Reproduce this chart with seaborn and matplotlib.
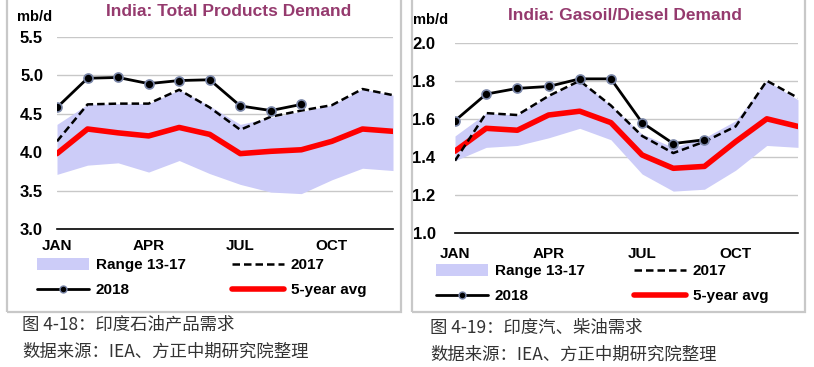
import numpy as np
import pandas as pd
import matplotlib
matplotlib.use("Agg")
import matplotlib.pyplot as plt
import seaborn as sns
from matplotlib.patches import Rectangle, Patch
from matplotlib.lines import Line2D

# data (mb/d), JAN..DEC
months = ["JAN", "FEB", "MAR", "APR", "MAY", "JUN", "JUL", "AUG", "SEP", "OCT", "NOV", "DEC"]
month_labels = ["JAN", "", "", "APR", "", "", "JUL", "", "", "OCT", "", ""]

total_2018 = [4.58, 4.96, 4.97, 4.89, 4.93, 4.94, 4.60, 4.54, 4.62]
total_2017 = [4.14, 4.62, 4.63, 4.63, 4.81, 4.58, 4.29, 4.46, 4.54, 4.61, 4.82, 4.74]
total_avg = [3.98, 4.30, 4.25, 4.21, 4.32, 4.23, 3.98, 4.01, 4.03, 4.14, 4.30, 4.27]
total_hi = [4.36, 4.62, 4.63, 4.63, 4.81, 4.60, 4.36, 4.45, 4.53, 4.61, 4.82, 4.74]
total_lo = [3.71, 3.83, 3.86, 3.74, 3.89, 3.72, 3.58, 3.48, 3.46, 3.64, 3.79, 3.76]

diesel_2018 = [1.59, 1.73, 1.76, 1.77, 1.81, 1.81, 1.58, 1.47, 1.49]
diesel_2017 = [1.38, 1.63, 1.62, 1.72, 1.80, 1.67, 1.51, 1.42, 1.48, 1.56, 1.80, 1.71]
diesel_avg = [1.43, 1.55, 1.54, 1.62, 1.64, 1.58, 1.41, 1.34, 1.35, 1.48, 1.60, 1.56]
diesel_hi = [1.51, 1.63, 1.62, 1.72, 1.80, 1.67, 1.52, 1.45, 1.50, 1.59, 1.80, 1.70]
diesel_lo = [1.38, 1.45, 1.46, 1.50, 1.55, 1.49, 1.31, 1.22, 1.23, 1.33, 1.46, 1.45]

sns.set_style("white")
plt.rcParams["font.family"] = ["Liberation Sans", "DejaVu Sans"]
plt.rcParams["text.color"] = "black"

W, H = 814, 367
fig = plt.figure(figsize=(W / 100, H / 100), dpi=100)

FILL = "#ccccf8"
TITLE_C = "#953a6e"


def px(x0, y_top, x1, y_bot):
    return [x0 / W, 1 - y_bot / H, (x1 - x0) / W, (y_bot - y_top) / H]


def panel(rect, title, title_xy, mbd_xy, s18, s17, avg, hi, lo, ylim, yticks, ylab_pad, xlab_pad,
          box, leg1, leg2, cap_xy, cap1):
    ax = fig.add_axes(px(*rect))
    x = np.arange(12)
    ax.fill_between(x, lo, hi, color=FILL, lw=0, zorder=1)
    sns.lineplot(x=x, y=avg, ax=ax, color="#ff0000", lw=4, zorder=3)
    sns.lineplot(x=x, y=s17, ax=ax, color="black", lw=1.8, ls=(0, (3, 1.6)), zorder=4)
    sns.lineplot(x=np.arange(len(s18)), y=s18, ax=ax, color="black", lw=2, marker="o", ms=6.5,
                 mfc="black", mec="#7a86a8", mew=1.2, zorder=5)
    ax.set_xlim(0, 11)
    ax.set_ylim(*ylim)
    ax.set_yticks(yticks)
    ax.set_yticklabels([f"{v:.1f}" for v in yticks], fontsize=12, fontweight="bold")
    ax.set_xticks(x)
    ax.set_xticklabels(month_labels, fontsize=11, fontweight="bold")
    for v in yticks[1:]:
        ax.axhline(v, color="#c8c8c8", lw=1, zorder=0)
    for s in ["top", "right", "left"]:
        ax.spines[s].set_visible(False)
    ax.spines["bottom"].set_color("black")
    ax.spines["bottom"].set_linewidth(1.2)
    ax.tick_params(axis="y", length=0, pad=ylab_pad, labelcolor="black")
    ax.tick_params(axis="x", direction="out", length=4, width=1, color="black", pad=xlab_pad,
                   labelcolor="black")
    ax.set_xlabel("")
    ax.set_ylabel("")

    fig.text(title_xy[0] / W, 1 - title_xy[1] / H, title, ha="center", va="center",
             fontsize=12.5, fontweight="bold", color=TITLE_C)
    fig.text(mbd_xy[0] / W, 1 - mbd_xy[1] / H, "mb/d", ha="left", va="center",
             fontsize=10.5, fontweight="bold")

    bx0, bx1, by1 = box
    fig.patches.append(Rectangle((bx0 / W, 1 - by1 / H), (bx1 - bx0) / W, by1 / H + 0.02,
                                 transform=fig.transFigure, fill=False, ec="#c8c8c8", lw=1.6))

    h_range = Patch(facecolor=FILL, edgecolor="none")
    h_18 = Line2D([], [], color="black", lw=2, marker="o", ms=5, mfc="black", mec="#7a86a8")
    h_17 = Line2D([], [], color="black", lw=1.8, ls=(0, (3, 1.6)))
    h_avg = Line2D([], [], color="#ff0000", lw=4)
    kw = dict(loc="upper left", frameon=False, borderpad=0, borderaxespad=0, handlelength=3.4,
              handleheight=0.8, handletextpad=0.45, labelspacing=0.72,
              prop={"family": "Liberation Sans", "weight": "bold", "size": 11},
              bbox_transform=fig.transFigure)
    l1 = ax.legend([h_range, h_18], ["Range 13-17", "2018"],
                   bbox_to_anchor=(leg1[0] / W, 1 - leg1[1] / H), **kw)
    ax.add_artist(l1)
    ax.legend([h_17, h_avg], ["2017", "5-year avg"],
              bbox_to_anchor=(leg2[0] / W, 1 - leg2[1] / H), **kw)

    cap_font = ["Noto Sans CJK SC", "DejaVu Sans"]
    fig.text(cap_xy[0] / W, 1 - cap_xy[1] / H, cap1, ha="left", va="center",
             fontsize=12.5, color="#333333", family=cap_font)
    fig.text(cap_xy[0] / W, 1 - (cap_xy[1] + 27) / H, "数据来源：IEA、方正中期研究院整理",
             ha="left", va="center", fontsize=12.5, color="#333333", family=cap_font)
    return ax


panel((57, 36.7, 393, 229), "India: Total Products Demand", (229, 11), (17, 17),
      total_2018, total_2017, total_avg, total_hi, total_lo,
      (3.0, 5.5), [3.0, 3.5, 4.0, 4.5, 5.0, 5.5], 10, 3,
      (7, 401, 312), (37, 258), (232, 258), (22, 325), "图 4-18：印度石油产品需求")

panel((455, 42.7, 798, 233), "India: Gasoil/Diesel Demand", (625, 15), (413, 20),
      diesel_2018, diesel_2017, diesel_avg, diesel_hi, diesel_lo,
      (1.0, 2.0), [1.0, 1.2, 1.4, 1.6, 1.8, 2.0], 14, 6,
      (412, 805, 312), (436, 264), (634, 264), (430, 328), "图 4-19：印度汽、柴油需求")

fig.savefig("out.png", dpi=100)
